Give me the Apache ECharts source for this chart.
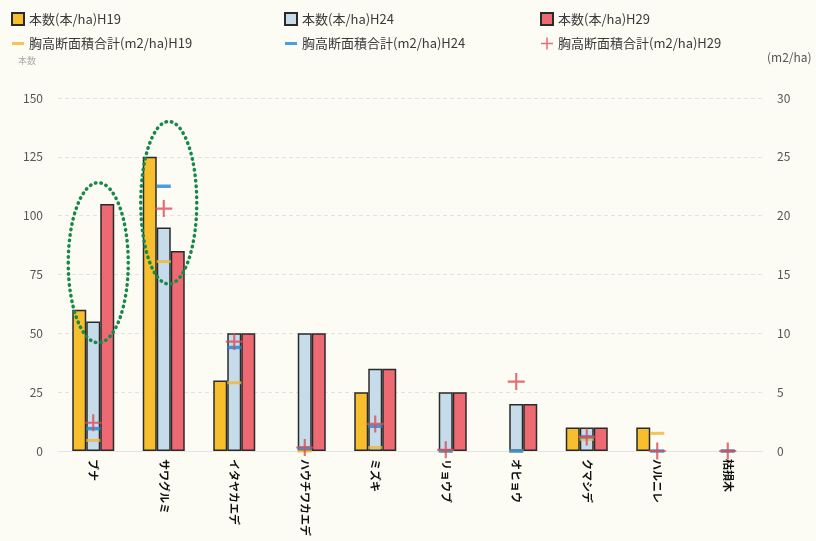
<!DOCTYPE html>
<html><head><meta charset="utf-8">
<script src="https://cdn.jsdelivr.net/npm/echarts@6/dist/echarts.min.js"></script>
<style>html,body{margin:0;padding:0;background:#fcfcf5;}#c{width:816px;height:541px;}</style>
</head><body><div id="c"></div>
<script>
var categories = ['ブナ','サワグルミ','イタヤカエデ','ハウチワカエデ','ミズキ','リョウブ','オヒョウ','クマシデ','ハルニレ','枯損木'];
var countH19 = [60,125,30,0,25,0,0,10,10,0];
var countH24 = [55,95,50,50,35,25,20,10,0,0];
var countH29 = [105,85,50,50,35,25,20,10,0,0];
var basalH19 = [0.9,16.1,5.8,0,0.3,0,0,1.0,1.5,0];
var basalH24 = [1.9,22.5,8.8,0.25,2.1,0,0,1.2,0,0];
var basalH29 = [2.4,20.6,9.3,0.3,2.3,0.1,5.9,1.2,0,0];
var leftTicks = [0,25,50,75,100,125,150];
var rightTicks = [0,5,10,15,20,25,30];

var names = ['本数(本/ha)H19','本数(本/ha)H24','本数(本/ha)H29',
  '胸高断面積合計(m2/ha)H19','胸高断面積合計(m2/ha)H24','胸高断面積合計(m2/ha)H29'];
var plusPath = 'path://M7,0H9V16H7Z M0,7H16V9H0Z';
var dashPath = 'path://M0,0H16V4H0Z';
var font = '"Noto Sans CJK JP", "Noto Sans", sans-serif';
// zero-height bars are not drawn in the original
function bars(arr) { return arr.map(function(v){ return v === 0 ? '-' : v; }); }

var chart = echarts.init(document.getElementById('c'));
function legendCfg(left, items) {
  return {
    orient: 'vertical', left: left, top: 7, itemGap: 11, itemWidth: 12, itemHeight: 12,
    textStyle: {fontSize: 13, color: '#3a3a3a', fontFamily: font},
    data: items
  };
}
var barStyle = function(c){ return {color: c, borderColor: '#2a2a2a', borderWidth: 1.5}; };
chart.setOption({
  backgroundColor: '#fcfcf5',
  textStyle: {fontFamily: font},
  legend: [
    legendCfg(6, [{name: names[0], icon: 'rect'}, {name: names[3], icon: dashPath}]),
    legendCfg(279, [{name: names[1], icon: 'rect'}, {name: names[4], icon: dashPath}]),
    legendCfg(535, [{name: names[2], icon: 'rect'}, {name: names[5], icon: plusPath}])
  ],
  grid: {left: 58, right: 53, top: 98, bottom: 90},
  xAxis: {
    type: 'category', data: categories,
    axisLine: {show: true, lineStyle: {color: '#e4e4e4'}},
    axisTick: {show: false},
    axisLabel: {rotate: -90, fontSize: 11, fontWeight: 'bold', color: '#111', margin: 8, fontFamily: font}
  },
  yAxis: [
    {type: 'value', min: 0, max: 150, interval: 25, name: '本数',
     nameTextStyle: {color: '#aaa', fontSize: 9, align: 'left', padding: [0,0,18,-40]},
     axisLine: {show: false}, axisTick: {show: false},
     axisLabel: {color: '#555', fontSize: 12, margin: 15},
     splitLine: {lineStyle: {color: '#e2e2e2', type: [4,3]}}},
    {type: 'value', min: 0, max: 30, interval: 5, name: '(m2/ha)',
     nameTextStyle: {color: '#555', fontSize: 12, align: 'left', padding: [0,0,20,4]},
     axisLine: {show: false}, axisTick: {show: false},
     axisLabel: {color: '#555', fontSize: 12, margin: 14},
     splitLine: {show: false}}
  ],
  series: [
    {name: names[0], type: 'bar', data: bars(countH19), barWidth: 14, barGap: '0%', itemStyle: barStyle('#f7bf2e')},
    {name: names[1], type: 'bar', data: bars(countH24), barWidth: 14, barGap: '0%', itemStyle: barStyle('#c6dcea')},
    {name: names[2], type: 'bar', data: bars(countH29), barWidth: 14, barGap: '0%', itemStyle: barStyle('#ee6a72')},
    {name: names[3], type: 'scatter', yAxisIndex: 1, data: basalH19, symbol: 'rect', symbolSize: [14,3], itemStyle: {color: '#f3b531'}, z: 5},
    {name: names[4], type: 'scatter', yAxisIndex: 1, data: basalH24, symbol: 'rect', symbolSize: [14,3.5], itemStyle: {color: '#1f86d6'}, z: 6},
    {name: names[5], type: 'scatter', yAxisIndex: 1, data: basalH29, symbol: plusPath, symbolSize: 17, itemStyle: {color: '#dc4a55'}, z: 7}
  ]
});

// dotted annotation ellipses around ブナ and サワグルミ
function ellipseAround(idx, dx, top, bottom, rx) {
  var t = chart.convertToPixel({xAxisIndex: 0, yAxisIndex: 0}, [idx, top]);
  var b = chart.convertToPixel({xAxisIndex: 0, yAxisIndex: 0}, [idx, bottom]);
  return {type: 'ellipse', z: 20,
    shape: {cx: t[0] + dx, cy: (t[1] + b[1]) / 2, rx: rx, ry: (b[1] - t[1]) / 2},
    style: {fill: 'none', stroke: '#17884a', lineWidth: 3.5, lineDash: [0.5, 5], lineCap: 'round'}};
}
chart.setOption({graphic: [ellipseAround(0, 5, 114, 46, 30), ellipseAround(1, 5, 140, 71, 28)]});
</script></body></html>
